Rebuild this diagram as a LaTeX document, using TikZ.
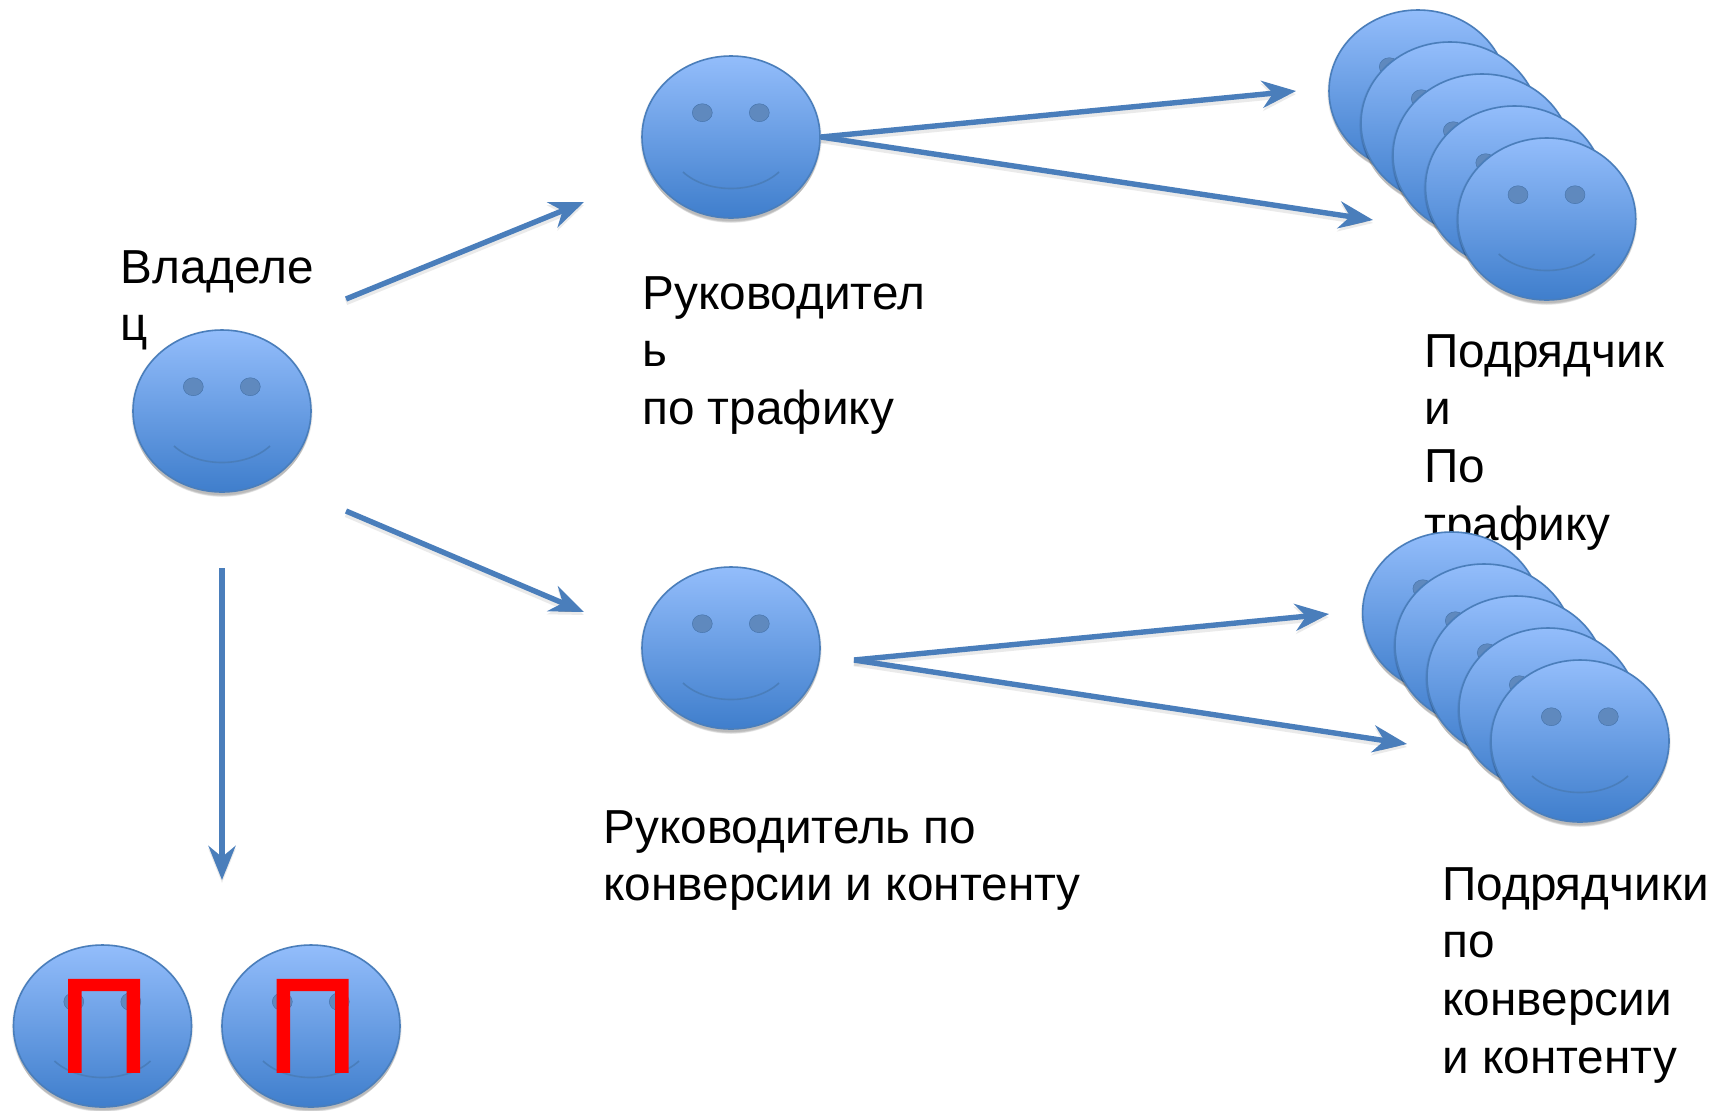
\documentclass[tikz,border=0pt]{standalone}
\usepackage{fontspec}
\setmainfont{Liberation Sans}
\newfontfamily\pifont[FakeBold=1.3]{Liberation Sans}
\usetikzlibrary{shapes.geometric,arrows.meta}
\definecolor{lineblue}{HTML}{4A7EBB}
\definecolor{facetop}{HTML}{93BDFB}
\definecolor{facebot}{HTML}{3F7ECC}
\definecolor{eyeblue}{HTML}{5F89BE}
\tikzset{
  facebox/.style={ellipse,draw=lineblue,line width=0.8pt,top color=facetop,bottom color=facebot,
    minimum width=89pt,minimum height=81pt,inner sep=0pt,outer sep=0pt},
  lbl/.style={font=\fontsize{23.85}{28.85}\selectfont,align=left,inner sep=0pt,anchor=north west,text=black},
  redp/.style={font=\pifont\fontsize{67}{67}\selectfont,text=red,inner sep=0pt,anchor=base},
  arr/.style={draw=lineblue,line width=2.7pt,-{Stealth[length=17pt,width=13.5pt,inset=5.5pt]},
    preaction={draw=black!40,draw opacity=0.2,line width=3.2pt,transform canvas={yshift=-1.5pt}}}
}
\newcommand{\smiley}[3]{%
  \foreach \sh/\op in {1/0.04,2/0.04,3/0.05,4/0.05,5/0.06,6/0.06}{
    \fill[black,opacity=\op] (#2,#3+\sh) ellipse [x radius=89.5+2-0.6*\sh,y radius=81.5+2-0.6*\sh];
  }
  \node[facebox] (#1) at (#2,#3) {};
  \fill[eyeblue,draw=lineblue!90!black,line width=0.2pt] ([shift={(-28.7,-24.3)}]#1.center) ellipse [x radius=10,y radius=9];
  \fill[eyeblue,draw=lineblue!90!black,line width=0.2pt] ([shift={(28.3,-24.3)}]#1.center) ellipse [x radius=10,y radius=9];
  \draw[lineblue,line width=0.8pt] ([shift={(-48,35)}]#1.center) .. controls ([shift={(-24,57)}]#1.center) and ([shift={(24,57)}]#1.center) .. ([shift={(48,35)}]#1.center);
}
\begin{document}
\begin{tikzpicture}[x=0.5pt,y=-0.5pt]
\useasboundingbox (0,0) rectangle (1723,1110);
\fill[white] (0,0) rectangle (1723,1110);
% labels under the faces
\node[lbl] (towner) at (120,250) {Владеле\\ц};
\node[lbl] (ttraf) at (642,276) {Руководител\\ь\\по трафику};
\node[lbl] (tsub) at (1424,334) {Подрядчик\\и\\По\\трафику};
\node[lbl] (tconv) at (603,810) {Руководитель по\\конверсии и контенту};
\node[lbl] (tsubc) at (1442,867) {Подрядчики\\по\\конверсии\\и контенту};
% faces
\smiley{owner}{222}{411}
\smiley{lead1}{731}{137}
\smiley{lead2}{731}{648}
\smiley{sa1}{1418}{91}
\smiley{sa2}{1450}{123}
\smiley{sa3}{1482}{155}
\smiley{sa4}{1514.5}{187}
\smiley{sa5}{1546.7}{219}
\smiley{sb1}{1451.6}{613}
\smiley{sb2}{1484}{645}
\smiley{sb3}{1516}{677}
\smiley{sb4}{1548}{709}
\smiley{sc5}{1580}{741}
\smiley{pa}{102.5}{1026}
\smiley{pb}{311}{1026}
\node[redp] (pia) at (pa.center) [yshift=-23pt,xshift=0.75pt] {\scalebox{0.94}[1]{П}};
\node[redp] (pib) at (pb.center) [yshift=-23pt,xshift=0.75pt] {\scalebox{0.94}[1]{П}};
% connector ends
\coordinate (a1s) at (346,299); \coordinate (a1e) at (584,202);
\coordinate (a2s) at (346,511); \coordinate (a2e) at (584,612);
\coordinate (a3s) at (222,568); \coordinate (a3e) at (222,880);
\coordinate (bs) at (821,137);  \coordinate (b1e) at (1296,91); \coordinate (b2e) at (1373,220);
\coordinate (cs) at (854,660);  \coordinate (c1e) at (1329,614); \coordinate (c2e) at (1407,744);
\draw[arr] (a1s) -- (a1e);
\draw[arr] (a2s) -- (a2e);
\draw[arr] (a3s) -- (a3e);
\draw[arr] (bs) -- (b1e);
\draw[arr] (bs) -- (b2e);
\draw[arr] (cs) -- (c1e);
\draw[arr] (cs) -- (c2e);
\end{tikzpicture}
\end{document}
